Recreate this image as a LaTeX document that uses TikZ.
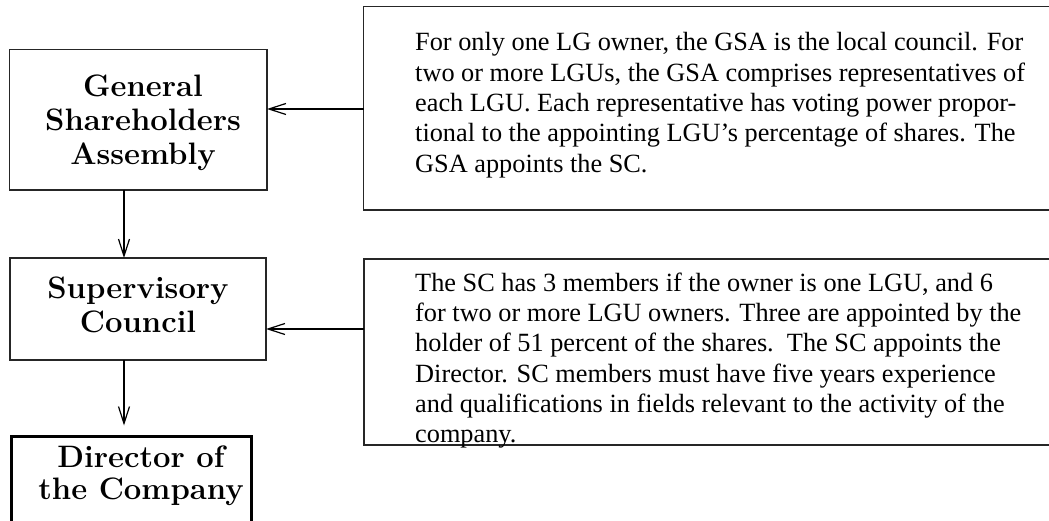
\documentclass[tikz,border=0pt]{standalone}
\usepackage{fontspec}
\newfontfamily\tnr{Liberation Serif}
\usetikzlibrary{arrows.meta}
\begin{document}
\begin{tikzpicture}[x=1pt,y=-1pt,
  box/.style={draw=black!85, line width=1.5pt, inner sep=0, outer sep=0},
  dirbox/.style={draw=black, line width=3pt, inner sep=0, outer sep=0},
  lbl/.style={font=\fontsize{31}{34}\selectfont\bfseries, align=center, inner sep=0},
  note/.style={font=\tnr\fontsize{26.3}{30.3}\selectfont, align=left, inner sep=0, anchor=north west},
  arr/.style={line width=1.2pt, -{Straight Barb[length=17pt,width=11pt]}}
]
\useasboundingbox (0,0) rectangle (1049,521);
\clip (0,0) rectangle (1049,521);
% boxes
\node[box, minimum width=257.5pt, minimum height=140.5pt] (gsa) at (138.25,119.75) {};
\node[box, minimum width=256pt, minimum height=102pt] (sc) at (138,309) {};
\node[dirbox, minimum width=240pt, minimum height=100pt] (dir) at (131.5,486.5) {};
\node[box, minimum width=696.5pt, minimum height=203.5pt] (n1) at (711.75,108.25) {};
\node[box, minimum width=696pt, minimum height=186pt] (n2) at (712,352) {};
% labels
\node[lbl] (gsat) at (143,122.3) {General\\Shareholders\\Assembly};
\node[lbl] (sct) at (138,304.5) {Supervisory\\Council};
\node[lbl, font=\fontsize{31}{32}\selectfont\bfseries] (dirt) at (141,476) {Director of\\the Company};
% notes
\node[note] (n1t) at (415,30.7) {\rule{0pt}{20pt}For only one LG owner, the GSA is the local council. For\\
two or more LGUs, the GSA comprises representatives of\\
each LGU. Each representative has voting power propor-\\
tional to the appointing LGU’s percentage of shares. The\\
GSA appoints the SC.};
\node[note] (n2t) at (415,271) {\rule{0pt}{20pt}The SC has 3 members if the owner is one LGU, and 6\\
for two or more LGU owners. Three are appointed by the\\
holder of 51 percent of the shares.\ \ The SC appoints the\\
Director. SC members must have five years experience\\
and qualifications in fields relevant to the activity of the\\
company.};
% connectors
\coordinate (a1) at (0,109);
\coordinate (a2) at (0,329);
\coordinate (vx) at (124,0);
\draw[arr] (n1.west |- a1) -- (gsa.east |- a1);
\draw[arr] (n2.west |- a2) -- (sc.east |- a2);
\draw[arr] (gsa.south -| vx) -- (sc.north -| vx);
\draw[arr, shorten >=11pt] (sc.south -| vx) -- (dir.north -| vx);
\end{tikzpicture}
\end{document}
